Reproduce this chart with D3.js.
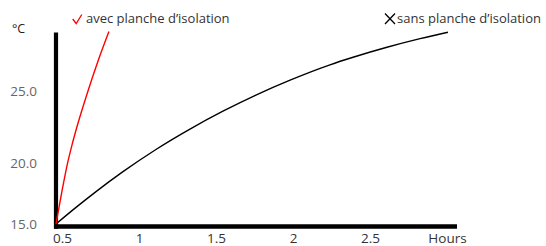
<!DOCTYPE html>
<html>
<head>
<meta charset="utf-8">
<script src="https://cdn.jsdelivr.net/npm/d3@7"></script>
<style>
  body { margin: 0; background: #fff; }
  svg { font-family: "Open Sans", "Noto Sans", sans-serif; }
</style>
</head>
<body>
<div id="chart"></div>
<script>
// hours on the x axis, °C on the y axis
const xTicks = [0.5, 1, 1.5, 2, 2.5, 3];
const xTickLabels = ["0.5", "1", "1.5", "2", "2.5", "Hours"];
const yTicks = [15, 20, 25];

// "sans planche d'isolation"
const sansHours = [0.461, 0.591, 0.721, 0.896, 1.110, 1.331, 1.545, 1.766, 1.981, 2.240, 2.390, 2.610, 2.825, 3.006];
const sansTemp  = [15.0, 16.47, 17.79, 19.36, 21.01, 22.45, 23.66, 24.75, 25.67, 26.62, 27.08, 27.68, 28.19, 28.57];

// "avec planche d'isolation"
const avecHours = [0.461, 0.5, 0.534, 0.565, 0.599, 0.664, 0.729, 0.805];
const avecTemp  = [15.0, 17.84, 19.90, 21.34, 22.68, 24.84, 26.72, 28.61];

const W = 546, H = 246;

const svg = d3.select("#chart")
    .append("svg")
    .attr("width", W)
    .attr("height", H);

// scales (the picture's y spacing grows toward the top)
const x = d3.scaleLinear()
    .domain([0.5, 3])
    .range([62, 447]);

const y = d3.scalePow()
    .exponent(1.7)
    .domain([15, 25])
    .range([224, 90.7]);

const xStart = 0.461, xEnd = 3.065, yTop = 28.55;

// x axis
const xAxis = svg.append("g")
    .attr("transform", `translate(0, ${y(15) + 2.5})`)
    .call(d3.axisBottom(x)
        .tickValues(xTicks)
        .tickSize(0)
        .tickPadding(7)
        .tickFormat((d, i) => xTickLabels[i]));
xAxis.select(".domain").remove();
xAxis.selectAll("text")
    .style("font-size", "13.5px")
    .style("fill", "#333")
    .style("font-family", "'Open Sans', sans-serif");

svg.append("line")
    .attr("x1", x(xStart) - 2)
    .attr("x2", x(xEnd))
    .attr("y1", y(15) + 2.5)
    .attr("y2", y(15) + 2.5)
    .attr("stroke", "black")
    .attr("stroke-width", 4.6);

// y axis
const yAxis = svg.append("g")
    .attr("transform", `translate(${x(xStart)}, 0)`)
    .call(d3.axisLeft(y)
        .tickValues(yTicks)
        .tickSize(0)
        .tickPadding(19)
        .tickFormat(d3.format(".1f")));
yAxis.select(".domain").remove();
yAxis.selectAll("text")
    .style("font-size", "13.5px")
    .style("fill", "#666")
    .style("font-family", "'Open Sans', sans-serif");

svg.append("line")
    .attr("x1", x(xStart))
    .attr("x2", x(xStart))
    .attr("y1", y(yTop))
    .attr("y2", y(15) + 4.8)
    .attr("stroke", "black")
    .attr("stroke-width", 4.2);

svg.append("text")
    .attr("x", 12)
    .attr("y", 33)
    .text("°C")
    .style("font-size", "12.5px")
    .style("fill", "#222");

// curves
const line = d3.line()
    .x(d => x(d[0]))
    .y(d => y(d[1]))
    .curve(d3.curveMonotoneX);

svg.append("path")
    .datum(sansHours.map((h, i) => [h, sansTemp[i]]))
    .attr("d", line)
    .attr("fill", "none")
    .attr("stroke", "black")
    .attr("stroke-width", 1.4);

svg.append("path")
    .datum(avecHours.map((h, i) => [h, avecTemp[i]]))
    .attr("d", line)
    .attr("fill", "none")
    .attr("stroke", "red")
    .attr("stroke-width", 1.4);

// legend
svg.append("path")
    .attr("d", "M72.7,19 L76.2,23.5 L81.8,14.5")
    .attr("fill", "none")
    .attr("stroke", "red")
    .attr("stroke-width", 1.3);
svg.append("text")
    .attr("x", 86)
    .attr("y", 23)
    .text("avec planche d’isolation")
    .style("font-size", "13px")
    .style("fill", "#333");

svg.append("path")
    .attr("d", "M385,13.5 L395,24 M395,13.5 L385,24")
    .attr("fill", "none")
    .attr("stroke", "black")
    .attr("stroke-width", 1.3);
svg.append("text")
    .attr("x", 397)
    .attr("y", 23)
    .text("sans planche d’isolation")
    .style("font-size", "13px")
    .style("fill", "#333");
</script>
</body>
</html>
